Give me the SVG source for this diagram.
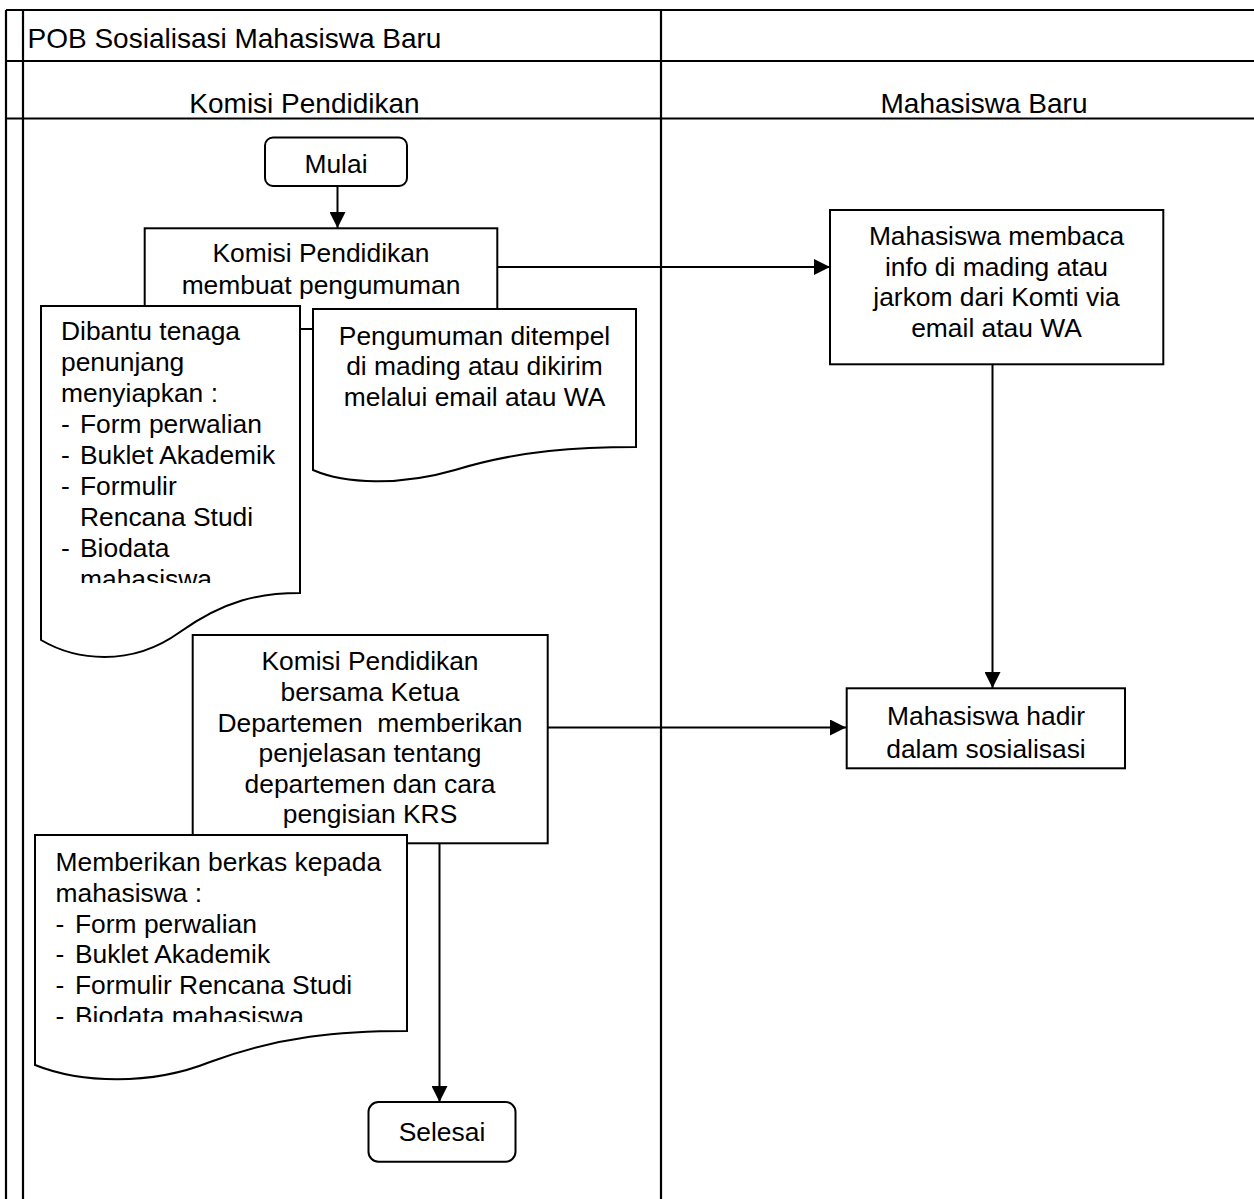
<svg xmlns="http://www.w3.org/2000/svg" width="1254" height="1199" viewBox="0 0 1254 1199">
<style>
text{font-family:"Liberation Sans",Arial,sans-serif;fill:#000}
.t{font-size:28px}
.b{font-size:26.4px}
.c{text-anchor:middle}
.shape{fill:#fff;stroke:#000;stroke-width:2}
.frame{stroke:#000;stroke-width:2.2;fill:none}
.conn{stroke:#000;stroke-width:2;fill:none}
</style>
<defs>
<marker id="ah" markerUnits="userSpaceOnUse" markerWidth="16" markerHeight="16" refX="16" refY="8" orient="auto">
<path d="M0,0 L16,8 L0,16 z" fill="#000"/>
</marker>
<clipPath id="clip1"><rect x="40" y="306" width="260" height="277"/></clipPath>
<clipPath id="clip3"><rect x="35" y="835" width="372" height="187"/></clipPath>
</defs>
<rect width="1254" height="1199" fill="#fff"/>
<g id="frame">
<line class="frame" x1="6" y1="10" x2="1254" y2="10"/>
<line class="frame" x1="6" y1="10" x2="6" y2="1199"/>
<line class="frame" x1="23" y1="10" x2="23" y2="1199"/>
<line class="frame" x1="6" y1="61" x2="1254" y2="61"/>
<line class="frame" x1="6" y1="118.5" x2="1254" y2="118.5"/>
<line class="frame" x1="661" y1="10" x2="661" y2="1199"/>
<text class="t" x="27.5" y="48">POB Sosialisasi Mahasiswa Baru</text>
<text class="t c" x="304.5" y="112.5">Komisi Pendidikan</text>
<text class="t c" x="984" y="112.5">Mahasiswa Baru</text>
</g>
<g id="connectors">
<line class="conn" x1="337.5" y1="186" x2="337.5" y2="228" marker-end="url(#ah)"/>
<line class="conn" x1="497" y1="267" x2="830" y2="267" marker-end="url(#ah)"/>
<line class="conn" x1="992.5" y1="364" x2="992.5" y2="688" marker-end="url(#ah)"/>
<line class="conn" x1="547.5" y1="727.5" x2="846" y2="727.5" marker-end="url(#ah)"/>
<line class="conn" x1="439.5" y1="838" x2="439.5" y2="1102" marker-end="url(#ah)"/>
</g>
<g id="mulai">
<rect class="shape" x="265" y="137.5" width="142" height="48.5" rx="8"/>
<text class="b c" x="336" y="173">Mulai</text>
</g>
<g id="buat-pengumuman">
<rect class="shape" x="144.7" y="228.3" width="352.6" height="100.7"/>
<text class="b c" x="321" y="262">Komisi Pendidikan</text>
<text class="b c" x="321" y="294">membuat pengumuman</text>
</g>
<g id="doc-penunjang">
<path class="shape" d="M41,306 L300,306 L300,593 C260,593 225,600 180,632 C130,668 75,660 41,640 Z"/>
<g clip-path="url(#clip1)">
<text class="b" x="61" y="340">Dibantu tenaga</text>
<text class="b" x="61" y="371">penunjang</text>
<text class="b" x="61" y="402">menyiapkan :</text>
<text class="b" x="61" y="433">-</text><text class="b" x="80" y="433">Form perwalian</text>
<text class="b" x="61" y="464">-</text><text class="b" x="80" y="464">Buklet Akademik</text>
<text class="b" x="61" y="494.5">-</text><text class="b" x="80" y="494.5">Formulir</text>
<text class="b" x="80" y="525.5">Rencana Studi</text>
<text class="b" x="61" y="556.5">-</text><text class="b" x="80" y="556.5">Biodata</text>
<text class="b" x="80" y="587.5">mahasiswa</text>
</g>
</g>
<g id="doc-pengumuman">
<path class="shape" d="M313,309 L636,309 L636,447 C580,447 520,450 455,470 C400,486 345,484 313,470 Z"/>
<text class="b c" x="474.5" y="344.5">Pengumuman ditempel</text>
<text class="b c" x="474.5" y="375">di mading atau dikirim</text>
<text class="b c" x="474.5" y="405.5">melalui email atau WA</text>
</g>
<g id="membaca-info">
<rect class="shape" x="830" y="210" width="333.3" height="154.3"/>
<text class="b c" x="996.5" y="245">Mahasiswa membaca</text>
<text class="b c" x="996.5" y="275.5">info di mading atau</text>
<text class="b c" x="996.5" y="306">jarkom dari Komti via</text>
<text class="b c" x="996.5" y="337">email atau WA</text>
</g>
<g id="penjelasan">
<rect class="shape" x="192.7" y="635" width="355" height="208.3"/>
<text class="b c" x="370" y="670">Komisi Pendidikan</text>
<text class="b c" x="370" y="701">bersama Ketua</text>
<text class="b c" x="370" y="731.5" style="white-space:pre" xml:space="preserve">Departemen  memberikan</text>
<text class="b c" x="370" y="762">penjelasan tentang</text>
<text class="b c" x="370" y="792.5">departemen dan cara</text>
<text class="b c" x="370" y="823.3">pengisian KRS</text>
</g>
<g id="doc-berkas">
<path class="shape" d="M35,835 L407,835 L407,1031 C340,1031 280,1036 210,1062 C150,1086 80,1083 35,1065 Z"/>
<g clip-path="url(#clip3)">
<text class="b" x="55.5" y="871">Memberikan berkas kepada</text>
<text class="b" x="55.5" y="901.8">mahasiswa :</text>
<text class="b" x="55.5" y="932.6">-</text><text class="b" x="75" y="932.6">Form perwalian</text>
<text class="b" x="55.5" y="963.4">-</text><text class="b" x="75" y="963.4">Buklet Akademik</text>
<text class="b" x="55.5" y="994.2">-</text><text class="b" x="75" y="994.2">Formulir Rencana Studi</text>
<text class="b" x="55.5" y="1025">-</text><text class="b" x="75" y="1025">Biodata mahasiswa</text>
</g>
</g>
<g id="hadir">
<rect class="shape" x="846.7" y="688.3" width="278.3" height="80"/>
<text class="b c" x="986" y="725">Mahasiswa hadir</text>
<text class="b c" x="986" y="758">dalam sosialisasi</text>
</g>
<g id="selesai">
<rect class="shape" x="368.5" y="1102" width="147" height="59.7" rx="10"/>
<text class="b c" x="442" y="1140.7">Selesai</text>
</g>
</svg>
